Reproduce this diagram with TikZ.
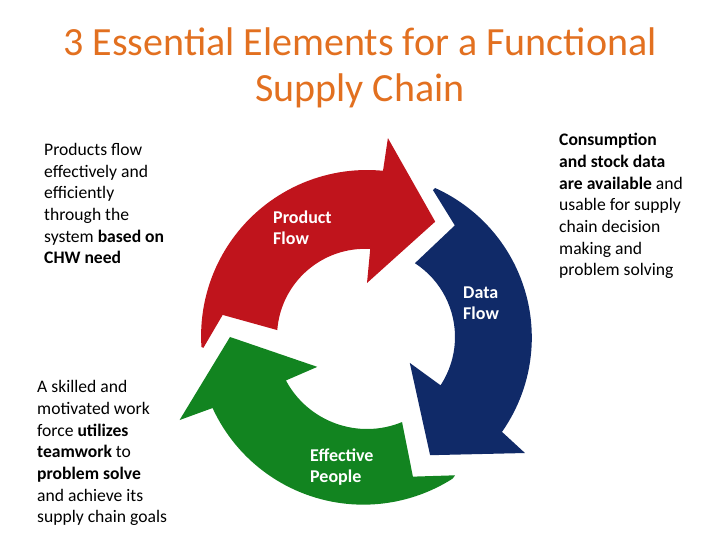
\documentclass[tikz,border=0pt]{standalone}
\usepackage{fontspec}
\setmainfont{Carlito}
\usepackage{tikz}
\usetikzlibrary{positioning}
\definecolor{ttlorange}{RGB}{226,112,32}
\definecolor{pfred}{RGB}{192,20,28}
\definecolor{dfblue}{RGB}{16,42,104}
\definecolor{epgreen}{RGB}{18,132,32}

\begin{document}
\begin{tikzpicture}[x=1pt,y=1pt]
        \tikzstyle{lbl}=[text=white,font=\fontsize{18}{21}\selectfont\bfseries,
            align=left,inner sep=0pt,anchor=base west]
        \tikzstyle{side}=[font=\fontsize{17.6}{21.7}\selectfont,
            align=left,inner sep=0pt,anchor=base west]
            \useasboundingbox (0,0) rectangle (720,540);

            % base anchor sits on the last line
            \node[text=ttlorange, font=\fontsize{40}{46}\selectfont,
            align=center, inner sep=0pt, anchor=base] (ttl) at (360,438)
            {3 Essential Elements for a Functional\\Supply Chain};

            % the three arrows round one centre
            \begin{scope}[shift={(367,203)}]
            \fill[pfred] (183.8:164) -- (171.3:146) -- (175.6:90)
            arc[start angle=175.6, end angle=86.6, radius=88]
            -- (90:54) -- (59.4:134) -- (84:200) -- (84.5:167)
            arc[start angle=84.5, end angle=183.8, radius=166] -- cycle;
            \fill[dfblue] (65.8:161) -- (51.8:142) -- (57:88)
            arc[start angle=57, end angle=-33.3, radius=88]
            -- (-31.2:50) -- (-61.9:134) -- (-36.3:196) -- (-35.1:165)
            arc[start angle=-35.1, end angle=65.8, radius=164] -- cycle;
            \fill[epgreen] (-57.5:164) -- (-71.8:147) -- (-67.6:92)
            arc[start angle=-67.6, end angle=-151.8, radius=92]
            -- (-149:58) -- (180:137) -- (-156.1:205) -- (-155.3:170)
            arc[start angle=-155.3, end angle=-57.5, radius=166] -- cycle;
            \end{scope}

            \node[lbl] (pf) at (273,295) {Product\\Flow};
            \node[lbl] (df) at (463,220) {Data\\Flow};
            \node[lbl] (ep) at (310,57) {Effective\\People};

            \node[side] (pftxt) at (44,276) {Products flow\\effectively and\\efficiently\\through the\\system \textbf{based on}\\\textbf{CHW need}};
            \node[side] (dftxt) at (559,264) {\textbf{Consumption}\\\textbf{and stock data}\\\textbf{are available} and\\usable for supply\\chain decision\\making and\\problem solving};
            \node[side] (eptxt) at (37,17) {A skilled and\\motivated work\\force \textbf{utilizes}\\\textbf{teamwork} to\\\textbf{problem solve}\\and achieve its\\supply chain goals};
        \end{tikzpicture}
\end{document}
